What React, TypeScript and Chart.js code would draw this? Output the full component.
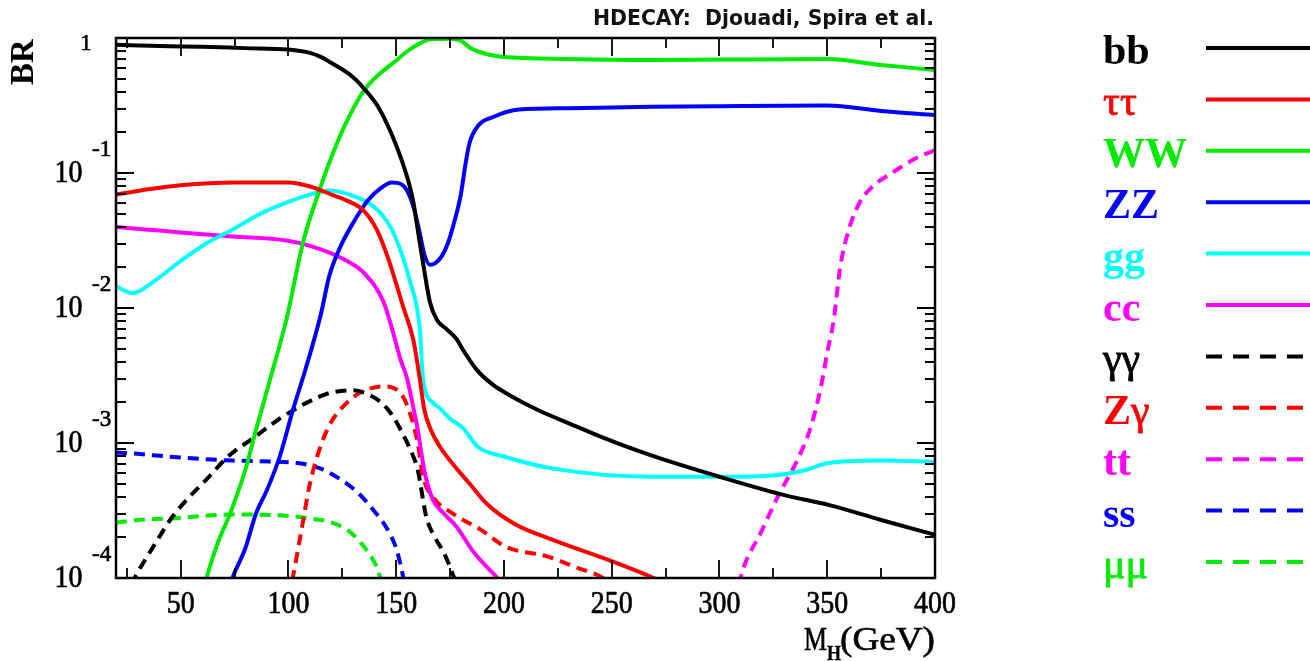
import React, { useEffect, useRef } from "react";
import { Chart, registerables } from "chart.js";

Chart.register(...registerables);

const W = 1310;
const H = 661;

// ---- data: Higgs mass (GeV) and log10(BR) ----
const bbX = [20, 40, 60, 80, 100, 110, 115, 120, 130, 137, 142, 147, 152, 156, 158, 160, 162.5, 165.7, 169, 173.6, 178, 181, 187.5, 195, 202, 215, 234, 246, 268, 300, 331, 351, 375, 400];
const bbLog = [-0.05, -0.06, -0.065, -0.075, -0.085, -0.11, -0.14, -0.185, -0.29, -0.41, -0.52, -0.68, -0.88, -1.08, -1.22, -1.42, -1.67, -1.96, -2.09, -2.16, -2.23, -2.31, -2.46, -2.57, -2.64, -2.75, -2.88, -2.96, -3.09, -3.25, -3.39, -3.46, -3.57, -3.68];

const tautauX = [20, 35, 50, 75, 100, 110, 120, 128, 135, 141, 146, 150, 153, 158, 161, 163, 166, 170, 176, 184, 192, 205, 223, 249, 268, 280];
const tautauLog = [-1.16, -1.12, -1.09, -1.07, -1.07, -1.1, -1.16, -1.21, -1.28, -1.42, -1.62, -1.82, -1.98, -2.24, -2.53, -2.75, -2.9, -3.02, -3.15, -3.3, -3.45, -3.6, -3.72, -3.87, -3.99, -4.08];

const wwX = [60, 62, 67, 73, 80, 85, 92, 99, 107, 115, 120, 127, 135, 142, 149, 155, 161, 166, 175, 180, 184, 188, 195, 200, 230, 268, 300, 350, 375, 400];
const wwLog = [-4.12, -4.0, -3.75, -3.52, -3.2, -2.9, -2.5, -2.09, -1.5, -1.1, -0.88, -0.62, -0.39, -0.27, -0.18, -0.1, -0.04, -0.01, -0.005, -0.02, -0.07, -0.1, -0.13, -0.14, -0.155, -0.163, -0.16, -0.156, -0.2, -0.237];

const zzX = [72, 74, 80, 85, 90, 96, 102, 108, 115, 119, 124, 130, 137, 143, 148, 152, 155, 158, 161, 163, 165.7, 168, 171, 174, 177, 180, 182, 184, 188, 195, 207, 230, 268, 300, 350, 375, 400];
const zzLog = [-4.1, -4.0, -3.78, -3.52, -3.35, -3.1, -2.76, -2.45, -2.05, -1.76, -1.55, -1.37, -1.2, -1.11, -1.07, -1.08, -1.13, -1.25, -1.45, -1.6, -1.68, -1.67, -1.62, -1.52, -1.36, -1.16, -0.95, -0.78, -0.65, -0.585, -0.53, -0.52, -0.51, -0.505, -0.5, -0.54, -0.57];

const ggX = [20, 28, 37, 51, 62, 74, 86, 99, 110, 119, 124, 130, 137, 143, 148, 153, 156, 161, 162.5, 167, 170, 175, 181, 188, 200, 223, 268, 300, 325, 340, 350, 375, 400];
const ggLog = [-1.84, -1.89, -1.81, -1.64, -1.52, -1.42, -1.31, -1.22, -1.16, -1.13, -1.14, -1.17, -1.22, -1.3, -1.42, -1.62, -1.78, -2.16, -2.53, -2.7, -2.74, -2.82, -2.89, -3.03, -3.1, -3.19, -3.25, -3.25, -3.24, -3.2, -3.15, -3.13, -3.14];

const ccX = [20, 35, 50, 74, 99, 110, 119, 127, 135, 144, 148, 152, 155, 158, 160, 163, 167, 172, 178, 186, 197, 200];
const ccLog = [-1.4, -1.42, -1.44, -1.47, -1.5, -1.54, -1.59, -1.65, -1.74, -1.95, -2.15, -2.38, -2.52, -2.74, -2.9, -3.2, -3.42, -3.52, -3.62, -3.81, -4.0, -4.05];

const gamgamX = [27, 30, 38, 46, 54, 62, 72, 84, 95, 102, 110, 119, 130, 137, 143, 148, 152, 156, 160, 164, 168, 172, 176, 178];
const gamgamLog = [-4.05, -3.96, -3.75, -3.55, -3.4, -3.27, -3.1, -2.96, -2.83, -2.76, -2.69, -2.63, -2.61, -2.64, -2.7, -2.79, -2.9, -3.03, -3.2, -3.55, -3.7, -3.81, -3.96, -4.05];

const zgamX = [100, 102, 106, 110, 115, 120, 126, 133, 144, 152, 156, 160, 162.5, 167, 176, 189, 201, 220, 235, 245, 250];
const zgamLog = [-4.15, -4.0, -3.65, -3.3, -3.02, -2.84, -2.72, -2.63, -2.58, -2.63, -2.76, -3.0, -3.25, -3.4, -3.52, -3.64, -3.77, -3.84, -3.93, -3.99, -4.05];

const ttX = [309, 311, 319, 327, 336, 342, 347, 350, 353, 356, 360, 365, 371, 380, 390, 400];
const ttLog = [-4.05, -3.93, -3.67, -3.4, -3.13, -2.9, -2.59, -2.33, -2.09, -1.7, -1.42, -1.22, -1.1, -1.0, -0.9, -0.83];

const ssX = [20, 30, 44, 74, 105, 115, 120, 127, 133, 138, 146, 150, 152, 154];
const ssLog = [-3.07, -3.08, -3.1, -3.13, -3.15, -3.19, -3.23, -3.3, -3.38, -3.47, -3.64, -3.78, -3.9, -4.05];

const mumuX = [20, 30, 44, 74, 100, 110, 118, 127, 132, 137, 141, 143];
const mumuLog = [-3.59, -3.57, -3.56, -3.53, -3.54, -3.56, -3.58, -3.64, -3.71, -3.81, -3.92, -4.02];

// ---- axis ticks ----
const xMajorTicks = [50, 100, 150, 200, 250, 300, 350, 400];
const xMinorTicks = [25, 75, 125, 175, 225, 275, 325, 375];
const yDecades = [-4, -3, -2, -1, 0];
const yMinorMultipliers = [2, 3, 4, 5, 6, 7, 8, 9];

const HEADER = "HDECAY:  Djouadi, Spira et al.";

const GREEN = "rgb(0,235,0)";

type Series = {
  parts: { text: string; bold: boolean }[];
  x: number[];
  logy: number[];
  color: string;
  dashed: boolean;
};

const SERIES: Series[] = [
  { parts: [{ text: "bb", bold: true }], x: bbX, logy: bbLog, color: "#000000", dashed: false },
  { parts: [{ text: "ττ", bold: false }], x: tautauX, logy: tautauLog, color: "#ff0000", dashed: false },
  { parts: [{ text: "WW", bold: true }], x: wwX, logy: wwLog, color: GREEN, dashed: false },
  { parts: [{ text: "ZZ", bold: true }], x: zzX, logy: zzLog, color: "#0000ff", dashed: false },
  { parts: [{ text: "gg", bold: true }], x: ggX, logy: ggLog, color: "#00ffff", dashed: false },
  { parts: [{ text: "cc", bold: true }], x: ccX, logy: ccLog, color: "#ff00ff", dashed: false },
  { parts: [{ text: "γγ", bold: false }], x: gamgamX, logy: gamgamLog, color: "#000000", dashed: true },
  { parts: [{ text: "Z", bold: true }, { text: "γ", bold: false }], x: zgamX, logy: zgamLog, color: "#ff0000", dashed: true },
  { parts: [{ text: "tt", bold: true }], x: ttX, logy: ttLog, color: "#ff00ff", dashed: true },
  { parts: [{ text: "ss", bold: true }], x: ssX, logy: ssLog, color: "#0000ff", dashed: true },
  { parts: [{ text: "μμ", bold: false }], x: mumuX, logy: mumuLog, color: GREEN, dashed: true },
];

const SERIF = "'Liberation Serif', 'DejaVu Serif', serif";

// text drawn with a slight horizontal squeeze and a thin outline to mimic the heavier original glyphs
function heavyText(ctx: CanvasRenderingContext2D, text: string, x: number, y: number, sx: number, stroke = 0.7) {
  ctx.save();
  ctx.translate(x, y);
  ctx.scale(sx, 1);
  ctx.fillText(text, 0, 0);
  if (stroke > 0) {
    ctx.lineWidth = stroke;
    ctx.strokeStyle = ctx.fillStyle as string;
    ctx.setLineDash([]);
    ctx.strokeText(text, 0, 0);
  }
  ctx.restore();
}

const decorPlugin = {
  id: "hdecayDecor",
  afterDatasetsDraw(chart: any) {
    const ctx: CanvasRenderingContext2D = chart.ctx;
    const a = chart.chartArea;
    const xs = chart.scales.x;
    const ys = chart.scales.y;
    ctx.save();
    ctx.strokeStyle = "#000";
    ctx.fillStyle = "#000";
    ctx.lineWidth = 2.5;
    ctx.setLineDash([]);
    ctx.strokeRect(a.left, a.top, a.right - a.left, a.bottom - a.top);

    const MAJ = 18;
    const MIN = 10;
    ctx.lineWidth = 1.8;
    ctx.beginPath();
    const xTick = (v: number, len: number) => {
      const px = Math.round(xs.getPixelForValue(v));
      ctx.moveTo(px, a.bottom);
      ctx.lineTo(px, a.bottom - len);
      ctx.moveTo(px, a.top);
      ctx.lineTo(px, a.top + len);
    };
    xMajorTicks.forEach((v) => xTick(v, MAJ));
    xMinorTicks.forEach((v) => xTick(v, MIN));
    const yTick = (v: number, len: number) => {
      const py = Math.round(ys.getPixelForValue(v));
      ctx.moveTo(a.left, py);
      ctx.lineTo(a.left + len, py);
      ctx.moveTo(a.right, py);
      ctx.lineTo(a.right - len, py);
    };
    yDecades.forEach((d) => {
      yTick(Math.pow(10, d), MAJ);
      if (d < 0) yMinorMultipliers.forEach((m) => yTick(m * Math.pow(10, d), MIN));
    });
    ctx.stroke();

    // x tick labels
    ctx.font = `31px ${SERIF}`;
    ctx.textAlign = "center";
    ctx.textBaseline = "middle";
    xMajorTicks.forEach((v) => {
      heavyText(ctx, String(v), xs.getPixelForValue(v), 605, 0.9);
    });

    // y tick labels
    yDecades.forEach((d) => {
      const py = ys.getPixelForValue(Math.pow(10, d));
      if (d === 0) {
        ctx.font = `23px ${SERIF}`;
        ctx.textAlign = "center";
        ctx.textBaseline = "middle";
        heavyText(ctx, "1", 86, py + 6, 0.95);
      } else {
        ctx.font = `31px ${SERIF}`;
        ctx.textAlign = "center";
        ctx.textBaseline = "middle";
        heavyText(ctx, "10", 68.5, py + 1, 0.9);
        ctx.font = `23px ${SERIF}`;
        ctx.textAlign = "left";
        heavyText(ctx, String(d), 92, py - 23, 1.0);
      }
    });

    // axis titles
    ctx.save();
    ctx.translate(24, 62);
    ctx.rotate(-Math.PI / 2);
    ctx.font = `bold 33px ${SERIF}`;
    ctx.textAlign = "center";
    ctx.textBaseline = "middle";
    ctx.fillText("BR", 0, 0);
    ctx.restore();

    ctx.textBaseline = "alphabetic";
    ctx.font = `34px ${SERIF}`;
    ctx.textAlign = "left";
    const gevW = ctx.measureText("(GeV)").width;
    heavyText(ctx, "(GeV)", 840, 650, 95 / gevW, 0.6);
    const mW = ctx.measureText("M").width;
    heavyText(ctx, "M", 804, 650, 23 / mW, 0.6);
    ctx.font = `bold 20px ${SERIF}`;
    heavyText(ctx, "H", 827, 660, 0.9, 0.3);

    // header
    ctx.font = "bold 20.4px 'DejaVu Sans', Verdana, sans-serif";
    ctx.textAlign = "right";
    ctx.fillStyle = "#111";
    ctx.fillText(HEADER, 934, 25);

    // legend
    const rowY0 = 48;
    const rowStep = 51.4;
    SERIES.forEach((s, i) => {
      const y = rowY0 + rowStep * i;
      ctx.fillStyle = s.color;
      ctx.textAlign = "left";
      ctx.textBaseline = "alphabetic";
      let tx = 1103;
      s.parts.forEach((p) => {
        ctx.font = `${p.bold ? "bold " : ""}42px ${SERIF}`;
        heavyText(ctx, p.text, tx, y + 16, 1.0, p.bold ? 0 : 0.8);
        tx += ctx.measureText(p.text).width;
      });
      ctx.strokeStyle = s.color;
      ctx.lineWidth = 4;
      ctx.setLineDash(s.dashed ? [16, 11] : []);
      ctx.beginPath();
      ctx.moveTo(1206, y);
      ctx.lineTo(1312, y);
      ctx.stroke();
    });
    ctx.setLineDash([]);
    ctx.restore();
  },
};

export default function App() {
  const ref = useRef<HTMLCanvasElement>(null);

  useEffect(() => {
    if (!ref.current) return;
    const datasets = SERIES.map((s) => ({
      label: s.parts.map((p) => p.text).join(""),
      data: s.x.map((xv, i) => ({ x: xv, y: Math.pow(10, s.logy[i]) })),
      borderColor: s.color,
      backgroundColor: s.color,
      borderWidth: 4,
      borderDash: s.dashed ? [11, 7] : [],
      borderCapStyle: "butt" as const,
      borderJoinStyle: "round" as const,
      pointRadius: 0,
      fill: false,
      cubicInterpolationMode: "monotone" as const,
    }));
    const chart = new Chart(ref.current, {
      type: "line",
      data: { datasets },
      options: {
        animation: false,
        responsive: false,
        maintainAspectRatio: false,
        devicePixelRatio: 1,
        layout: { padding: { left: 116, top: 38, right: W - 935, bottom: H - 578 } },
        plugins: { legend: { display: false }, tooltip: { enabled: false } },
        events: [],
        scales: {
          x: { type: "linear", min: 20, max: 400, display: false },
          y: { type: "logarithmic", min: 1e-4, max: 1, display: false },
        },
      },
      plugins: [decorPlugin],
    });
    return () => chart.destroy();
  }, []);

  return (
    <div style={{ position: "absolute", left: 0, top: 0, width: W, height: H, background: "#fff" }}>
      <canvas ref={ref} width={W} height={H} style={{ width: W, height: H, display: "block" }} />
    </div>
  );
}
